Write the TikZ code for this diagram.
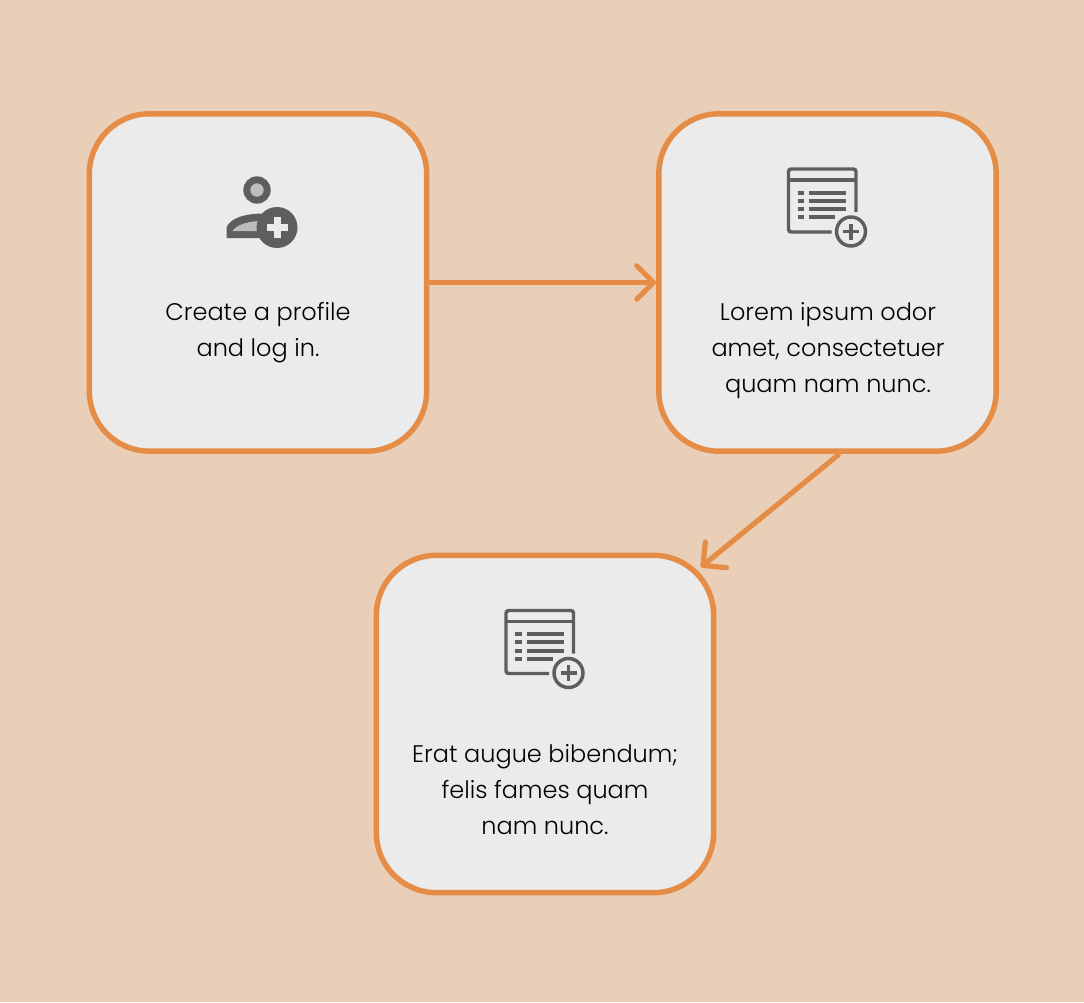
\documentclass[tikz,border=0pt]{standalone}
\usepackage{fontspec}
\setmainfont{Poppins Light}
\usetikzlibrary{arrows.meta}
\definecolor{pagebg}{HTML}{E9CFB8}
\definecolor{boxfill}{HTML}{EBEBEB}
\definecolor{boxline}{HTML}{E58D46}
\definecolor{icondark}{HTML}{5E5E5E}
\definecolor{iconlight}{HTML}{BDBDBD}
\tikzset{
  stepbox/.style={draw=boxline,fill=boxfill,line width=4.1pt,rounded corners=45pt,minimum size=253pt},
  steptext/.style={align=center,text=black,font=\fontsize{18}{27}\selectfont},
  steparrow/.style={draw=boxline,line width=3.9pt,-{Straight Barb[length=12.5pt,width=25pt,line width=3.9pt,round]}},
  pics/listicon/.style={code={
    \draw[icondark,line width=2.6pt,rounded corners=2pt] (28.5,-70.5) -- (28.5,-113.5) -- (-39,-113.5) -- (-39,-50.5) -- (4,-50.5);
    \draw[icondark,line width=2.6pt] (-39,-102.5) -- (28.5,-102.5);
    \foreach \rowy in {-90,-82,-73.5,-65.5}
      \draw[icondark,line width=3pt] (-30,\rowy) -- (-23.5,\rowy);
    \foreach \rowy in {-90,-82,-73.5}
      \draw[icondark,line width=3pt] (-18.5,\rowy) -- (18.5,\rowy);
    \draw[icondark,line width=3pt] (-18.5,-65.5) -- (7.5,-65.5);
    \draw[icondark,line width=2.6pt] (23.5,-51) circle (14.5);
    \draw[icondark,line width=2.6pt] (15.5,-51) -- (31.5,-51);
    \draw[icondark,line width=2.6pt] (23.5,-59) -- (23.5,-43);
  }},
  pics/personicon/.style={code={
    \fill[icondark] (-1,-92.5) circle (13.7);
    \fill[iconlight] (-1,-92.5) circle (6.7);
    \fill[icondark] (-31.5,-44.5) -- (-31.5,-55) .. controls (-28,-64) and (-14,-69) .. (6,-69) -- (6,-44.5) -- cycle;
    \fill[iconlight] (-25.5,-51.5) .. controls (-22,-57) and (-12,-61) .. (2,-61.5) -- (2,-51.5) -- cycle;
    \fill[icondark] (19,-55) circle (20.5);
    \fill[boxfill] (8.5,-58.5) rectangle (29.5,-51.5);
    \fill[boxfill] (15.5,-65.5) rectangle (22.5,-44.5);
  }}
}
\begin{document}
\begin{tikzpicture}[x=.75pt,y=-.75pt]
  \useasboundingbox (0,0) rectangle (1084,1002);
  \fill[pagebg] (0,0) rectangle (1084,1002);
  % boxes
  \node[stepbox] (profile) at (258,282.5) {};
  \node[stepbox] (lorem) at (827.5,282.5) {};
  \node[stepbox] (erat) at (545,724) {};
  % icons
  \pic at (profile.center) {personicon};
  \pic at (lorem.center) {listicon};
  \pic at (erat.center) {listicon};
  % texts
  \node[steptext] (profiletext) at (258,332.5) {Create a profile\\and log in.};
  \node[steptext] (loremtext) at (828,351) {Lorem ipsum odor\\amet, consectetuer\\quam nam nunc.};
  \node[steptext] (erattext) at (545,790) {Erat augue bibendum;\\felis fames quam\\nam nunc.};
  % connectors
  \coordinate (erattip) at (701,567);
  \draw[steparrow] (profile.east) -- (lorem.west);
  \draw[steparrow] (lorem.-86.5) -- (erattip);
\end{tikzpicture}
\end{document}
